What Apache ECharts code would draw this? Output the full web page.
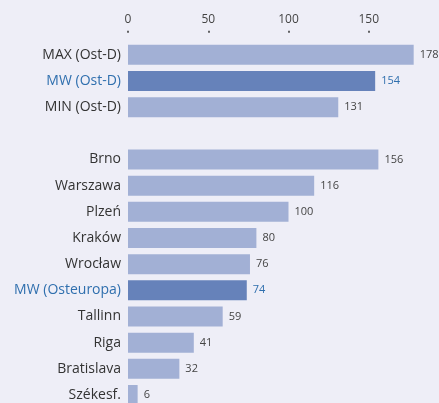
<!DOCTYPE html>
<html><head><meta charset="utf-8">
<script src="https://cdn.jsdelivr.net/npm/echarts@6/dist/echarts.min.js"></script>
<style>html,body{margin:0;padding:0;background:#eeeef7;}#c{width:439px;height:403px;}</style>
</head><body><div id="c"></div>
<script>
const categories = ['MAX (Ost-D)','MW (Ost-D)','MIN (Ost-D)','','Brno','Warszawa','Plzeń','Kraków','Wrocław','MW (Osteuropa)','Tallinn','Riga','Bratislava','Székesf.'];
const values = [178,154,131,null,156,116,100,80,76,74,59,41,32,6];
const highlighted = ['MW (Ost-D)','MW (Osteuropa)'];
const xTicks = [0,50,100,150,200];

const FONT = 'Open Sans';
const BLUE_TXT = '#2f6fae';
const chart = echarts.init(document.getElementById('c'), null, {renderer:'canvas'});
chart.setOption({
  backgroundColor:'#eeeef7',
  animation:false,
  grid:{left:128, top:41.7, width:321, height:366.4, containLabel:false, outerBoundsMode:'none'},
  xAxis:{type:'value', position:'top', min:xTicks[0], max:xTicks[xTicks.length-1], interval:50, offset:9,
    axisLine:{show:false}, splitLine:{show:false},
    axisTick:{show:true, length:2, lineStyle:{color:'#333', width:1.5}},
    axisLabel:{margin:7, fontFamily:FONT, fontSize:12, color:'#444'}},
  yAxis:{type:'category', inverse:true, data:categories,
    axisLine:{show:false}, axisTick:{show:false},
    axisLabel:{margin:7, fontFamily:FONT, fontSize:14,
      color:(v)=> highlighted.includes(v) ? BLUE_TXT : '#333'}},
  series:[{type:'bar', barWidth:20,
    data: values.map((v,i)=>({value:v,
      itemStyle:{color: highlighted.includes(categories[i]) ? '#6682ba' : '#a2b0d5'},
      label:{color: highlighted.includes(categories[i]) ? BLUE_TXT : '#444'}})),
    label:{show:true, position:'right', distance:6, fontFamily:FONT, fontSize:11,
      formatter:(p)=> p.value==null ? '' : p.value}
  }]
});
</script></body></html>
